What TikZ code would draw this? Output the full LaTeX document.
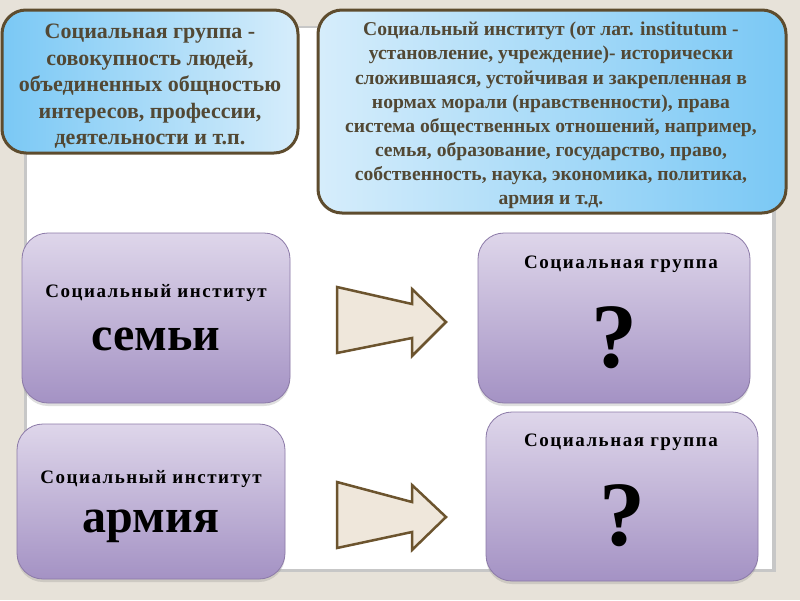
\documentclass[tikz,border=0pt]{standalone}
\usepackage{fontspec}
\setmainfont{Liberation Serif}
\newfontfamily\spacedserif[LetterSpace=8]{Liberation Serif}
\usetikzlibrary{shadows}
\definecolor{bgc}{RGB}{231,226,217}
\definecolor{bluedark}{RGB}{122,200,245}
\definecolor{bluelight}{RGB}{214,237,251}
\definecolor{brownline}{RGB}{94,76,46}
\definecolor{browntext}{RGB}{82,72,52}
\definecolor{purtop}{RGB}{222,214,234}
\definecolor{purbot}{RGB}{164,146,196}
\definecolor{purline}{RGB}{140,122,168}
\definecolor{arrowfill}{RGB}{239,231,219}
\definecolor{arrowline}{RGB}{108,84,46}
\tikzset{
  bluebox/.style={draw=brownline, line width=3pt, rounded corners=24pt, inner sep=0pt},
  purbox/.style={draw=purline, line width=0.8pt, rounded corners=26pt, top color=purtop, bottom color=purbot,
    drop shadow={shadow xshift=0pt, shadow yshift=-3pt, opacity=0.25}, inner sep=0pt},
  bluetext/.style={text=browntext, align=center},
  smalltitle/.style={text=black, anchor=base, font=\spacedserif\fontsize{19}{22}\selectfont\bfseries},
  bigword/.style={text=black, anchor=base, font=\fontsize{48}{52}\selectfont\bfseries},
  qmark/.style={text=black, anchor=base, font=\fontsize{92}{96}\selectfont\bfseries},
  bigarrow/.style={draw=arrowline, fill=arrowfill, line width=2.5pt, line join=miter}
}
\begin{document}
\begin{tikzpicture}[x=1pt,y=-1pt]
\fill[bgc] (0,0) rectangle (800,600);
\useasboundingbox (0,0) rectangle (800,600);
% panel
\fill[black!22] (24,26) rectangle (776,572);
\fill[white] (27,28) rectangle (772,569);
% blue boxes
\node[bluebox, minimum width=296pt, minimum height=143pt, left color=bluedark, right color=bluelight] (defgroup) at (150,81.5) {};
\node[bluetext, font=\fontsize{22}{26.5}\selectfont\bfseries] (defgrouptext) at (150,86.5) {Социальная группа -\\совокупность людей,\\объединенных общностью\\интересов, профессии,\\деятельности и т.п.};
\node[bluebox, minimum width=468pt, minimum height=203pt, left color=bluelight, right color=bluedark] (definst) at (552,111.5) {};
\node[bluetext, font=\fontsize{19.6}{24.1}\selectfont\bfseries] (definsttext) at (551,115.5) {Социальный институт (от лат. institutum -\\установление, учреждение)- исторически\\сложившаяся, устойчивая и закрепленная в\\нормах морали (нравственности), права\\система общественных отношений, например,\\семья, образование, государство, право,\\собственность, наука, экономика, политика,\\армия и т.д.};
% purple boxes
\node[purbox, minimum width=268pt, minimum height=170pt] (family) at (156,318) {};
\node[smalltitle] (familyt) at (156,297) {Социальный институт};
\node[bigword] (familyw) at (156,350) {семьи};
\node[purbox, minimum width=268pt, minimum height=155pt] (army) at (151,501.5) {};
\node[smalltitle] (armyt) at (151,483) {Социальный институт};
\node[bigword] (armyw) at (151,532) {армия};
\node[purbox, minimum width=272pt, minimum height=170pt] (groupa) at (614,318) {};
\node[smalltitle] (groupat) at (621,268) {Социальная группа};
\node[qmark] (groupaq) at (614,367) {?};
\node[purbox, minimum width=272pt, minimum height=169pt] (groupb) at (622,496.5) {};
\node[smalltitle] (groupbt) at (621,446) {Социальная группа};
\node[qmark] (groupbq) at (622,545) {?};
% arrows
\draw[bigarrow] (337,287) -- (412,304) -- (412,289) -- (446,322) -- (412,356) -- (412,338) -- (337,353) -- cycle;
\draw[bigarrow] (337,482) -- (412,502) -- (412,485) -- (446,517) -- (412,550) -- (412,532) -- (337,548) -- cycle;
\end{tikzpicture}
\end{document}
